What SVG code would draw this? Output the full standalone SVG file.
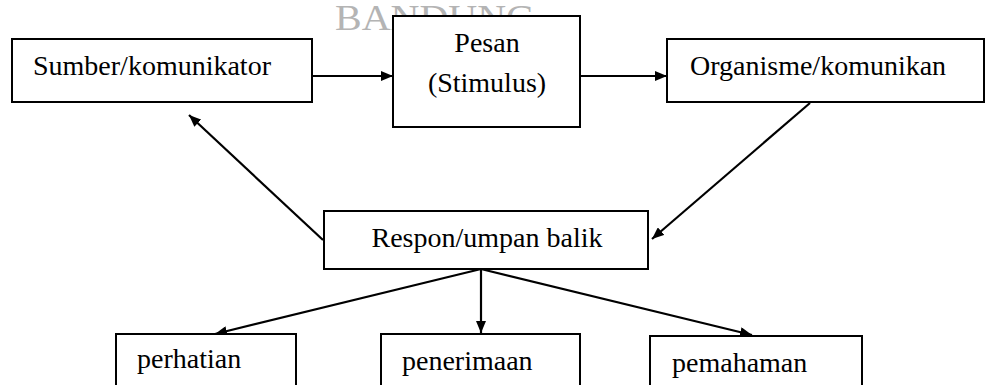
<svg xmlns="http://www.w3.org/2000/svg" width="989" height="385" viewBox="0 0 989 385">
  <defs>
    <marker id="arrow" viewBox="0 0 12 10" refX="12" refY="5" markerWidth="12" markerHeight="10" markerUnits="userSpaceOnUse" orient="auto">
      <path d="M0,0 L12,5 L0,10 Z" fill="#000"/>
    </marker>
    <style>
      .box { fill: #fff; stroke: #000; stroke-width: 2; }
      .lbl { font-family: "Liberation Serif", "Times New Roman", serif; font-size: 28px; fill: #000; }
      .mid { text-anchor: middle; }
      .conn { stroke: #000; stroke-width: 2.2; fill: none; marker-end: url(#arrow); }
      .wm { font-family: "Liberation Serif", "Times New Roman", serif; font-size: 36px; fill: #b4b4b4; }
    </style>
  </defs>
  <rect width="989" height="385" fill="#fff"/>

  <text class="wm" x="335" y="30" textLength="200" lengthAdjust="spacingAndGlyphs">BANDUNG</text>

  <g id="connectors">
    <line class="conn" x1="312" y1="76" x2="393" y2="76"/>
    <line class="conn" x1="580" y1="76" x2="667" y2="76"/>
    <line class="conn" x1="810" y1="103" x2="652" y2="239"/>
    <line class="conn" x1="323" y1="240" x2="189" y2="115"/>
    <line class="conn" x1="481" y1="269" x2="215" y2="334"/>
    <line class="conn" x1="481" y1="269" x2="481" y2="333"/>
    <line class="conn" x1="481" y1="269" x2="752" y2="335"/>
  </g>

  <g id="sumber">
    <rect class="box" x="12" y="39" width="300" height="63"/>
    <text class="lbl" x="33" y="75">Sumber/komunikator</text>
  </g>
  <g id="pesan">
    <rect class="box" x="393" y="16" width="187" height="111"/>
    <text class="lbl mid" x="487" y="52">Pesan</text>
    <text class="lbl mid" x="487" y="92">(Stimulus)</text>
  </g>
  <g id="organisme">
    <rect class="box" x="667" y="39" width="317" height="63"/>
    <text class="lbl" x="690" y="75">Organisme/komunikan</text>
  </g>
  <g id="respon">
    <rect class="box" x="324" y="211" width="324" height="58"/>
    <text class="lbl mid" x="487" y="247">Respon/umpan balik</text>
  </g>
  <g id="perhatian">
    <rect class="box" x="116" y="334" width="180" height="60"/>
    <text class="lbl" x="137" y="368">perhatian</text>
  </g>
  <g id="penerimaan">
    <rect class="box" x="381" y="334" width="199" height="60"/>
    <text class="lbl" x="402" y="370">penerimaan</text>
  </g>
  <g id="pemahaman">
    <rect class="box" x="650" y="336" width="212" height="60"/>
    <text class="lbl" x="672" y="372">pemahaman</text>
  </g>
</svg>
